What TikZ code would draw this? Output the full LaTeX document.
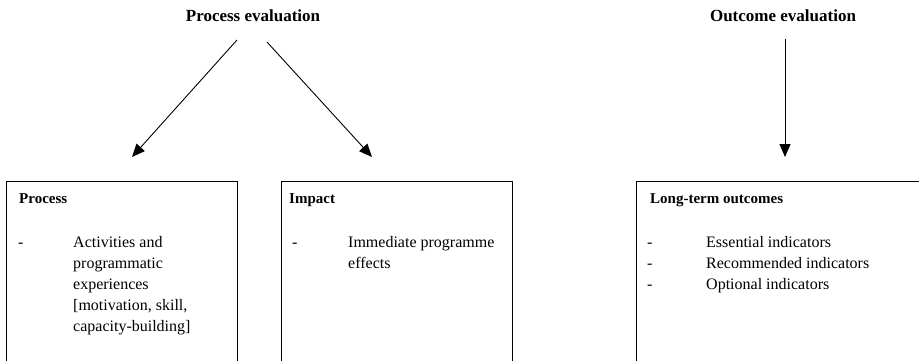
\documentclass[tikz,border=0pt]{standalone}
\usepackage{fontspec}
\setmainfont{Liberation Serif}
\usetikzlibrary{arrows.meta}

\tikzset{
    evaltitle/.style={font=\fontsize{17}{20}\selectfont\bfseries, inner sep=0pt},
    boxtitle/.style={anchor=base west, inner sep=0pt, font=\fontsize{15}{18}\selectfont\bfseries},
    itemdash/.style={anchor=base west, inner sep=0pt, font=\fontsize{16}{21}\selectfont},
    itemtext/.style={anchor=north west, inner sep=0pt, align=left, font=\fontsize{16}{21}\selectfont},
    stagebox/.style={draw, line width=1.1pt, rectangle, anchor=north west, minimum height=220pt, inner sep=0pt},
    evalarrow/.style={line width=0.9pt, -{Triangle[length=13pt,width=11pt]}}
}

\begin{document}
\begin{tikzpicture}[x=1pt, y=1pt]

\useasboundingbox (0,0) rectangle (919,360);
\clip (0,0) rectangle (919,360);

% evaluation headings
\node[evaltitle] (proceval) at (253,344) {Process evaluation};
\node[evaltitle] (outeval) at (783,344) {Outcome evaluation};

% stage boxes (open at the bottom)
\node[stagebox, minimum width=231pt] (procbox) at (6,179) {};
\node[stagebox, minimum width=231pt] (impbox) at (281,179) {};
\node[stagebox, minimum width=320pt] (outbox) at (636,179) {};

% arrow ends
\coordinate (procstart) at (237,320);
\coordinate (impstart) at (267,318);
\coordinate (outstart) at (785,321);
\coordinate (procend) at (132,203);
\coordinate (impend) at (372,203);
\coordinate (outend) at (785,203);

\draw[evalarrow] (procstart) -- (procend);
\draw[evalarrow] (impstart) -- (impend);
\draw[evalarrow] (outstart) -- (outend);

% process box
\node[boxtitle] (proctitle) at (19,157) {Process};
\node[itemdash] (procdash) at (18,113) {-};
\node[itemtext] (procitem) at (73,124) {Activities and\\programmatic\\experiences\\{[}motivation, skill,\\capacity-building{]}};

% impact box
\node[boxtitle] (imptitle) at (289,157) {Impact};
\node[itemdash] (impdash) at (292,113) {-};
\node[itemtext] (impitem) at (348,124) {Immediate programme\\effects};

% outcome box
\node[boxtitle] (outtitle) at (650,157) {Long-term outcomes};
\foreach \i/\txt in {0/Essential indicators, 1/Recommended indicators, 2/Optional indicators}
{
    \node[itemdash] (outdash\i) at (647,113-21*\i) {-};
    \node[itemdash] (outitem\i) at (706,113-21*\i) {\txt};
}

\end{tikzpicture}
\end{document}
